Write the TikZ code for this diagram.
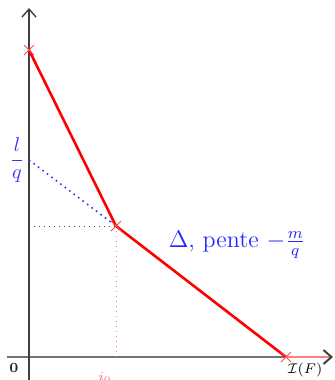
\documentclass[tikz,border=0pt]{standalone}
\usepackage{amsmath}
\usetikzlibrary{arrows.meta,calc}
\begin{document}
\begin{tikzpicture}[x=0.5pt,y=-0.5pt,
  axis/.style={line width=0.7pt,draw=black!75},
  seg/.style={line width=1.3pt,draw=red},
  crossmark/.style={draw=red!70,line width=0.5pt},
  lbl/.style={inner sep=0pt}]
\useasboundingbox (0,0) rectangle (335,380);
% key points
\coordinate (O) at (29,357);
\coordinate (A) at (29,50);
\coordinate (B) at (116,226);
\coordinate (C) at (286,357);
\coordinate (L) at (29,160);
\coordinate (BY) at (29,226);
\coordinate (BX) at (116,357);
\coordinate (XS) at (7,357);
\coordinate (XE) at (333,357);
\coordinate (YS) at (29,380);
\coordinate (YE) at (29,8);
% axes
\draw[line width=1pt,draw=black!55] (XS) -- (C);
\draw[line width=1pt,draw=red!50,-{Straight Barb[length=4pt,width=7pt,color=black!75]}] (C) -- (XE);
\draw[axis,-{Straight Barb[length=4pt,width=7pt]}] (YS) -- (YE);
% dotted helpers
\draw[dotted,line width=0.8pt,blue!80] (L) -- (B);
\draw[dotted,line width=0.5pt,black!70] (BY) -- (B);
\draw[dotted,line width=0.5pt,red!50] (B) -- (BX);
% broken line
\draw[seg] (A) -- (B) -- (C);
% crosses
\foreach \p in {A,B,C}{
  \draw[crossmark] ($(\p)+(-5,-5)$) -- ($(\p)+(5,5)$);
  \draw[crossmark] ($(\p)+(-5,5)$) -- ($(\p)+(5,-5)$);
}
% labels
\node[lbl,text=blue!80] (lq) at (17,160) {$\dfrac{l}{q}$};
\node[lbl,text=blue!85,font=\large] (delta) at (237,245) {$\Delta$, pente $-\frac{m}{q}$};
\node[lbl,font=\scriptsize,text=black!85] (zero) at (14,368) {$\mathbf{0}$};
\node[lbl,font=\scriptsize] (IF) at (305,370) {$\mathcal{I}(F)$};
\node[lbl,font=\scriptsize,text=red!60] (i0) at (105,378) {$i_0$};
\end{tikzpicture}
\end{document}
